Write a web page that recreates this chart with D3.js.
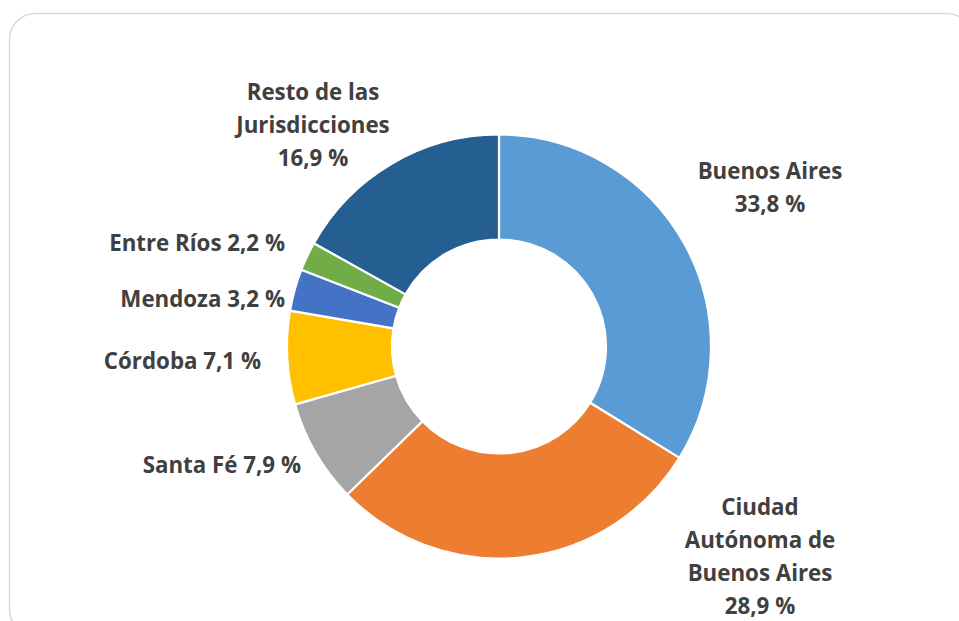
<!DOCTYPE html>
<html><head><meta charset="utf-8">
<script src="https://cdn.jsdelivr.net/npm/d3@7"></script>
<style>body{margin:0;background:#fff;} svg{display:block;}</style>
</head><body>
<svg id="chart" width="959" height="621"></svg>
<script>
const categories = ["Buenos Aires","Ciudad Autónoma de Buenos Aires","Santa Fé","Córdoba","Mendoza","Entre Ríos","Resto de las Jurisdicciones"];
const values = [33.8, 28.9, 7.9, 7.1, 3.2, 2.2, 16.9];
const labelLines = [
  ["Buenos Aires","33,8 %"],
  ["Ciudad","Autónoma de","Buenos Aires","28,9 %"],
  ["Santa Fé 7,9 %"],
  ["Córdoba 7,1 %"],
  ["Mendoza 3,2 %"],
  ["Entre Ríos 2,2 %"],
  ["Resto de las","Jurisdicciones","16,9 %"]
];
const colors = ["#5B9BD5","#ED7D31","#A5A5A5","#FFC000","#4472C4","#70AD47","#255E91"];

// layout
const cx = 499, cy = 346.5, outerR = 212, innerR = 107;
const labelPos = [ // offsets from chart center: [dx, dy, anchor]
  [271, -174, "middle"],
  [261, 162, "middle"],
  [-198, 120, "end"],
  [-238, 16, "end"],
  [-214, -46, "end"],
  [-214, -102, "end"],
  [-186, -253, "middle"]
];
const lineH = 33;

const svg = d3.select("#chart");
svg.append("rect").attr("x",9.5).attr("y",13.5).attr("width",963).attr("height",622)
  .attr("rx",26).attr("fill","#fff").attr("stroke","#d9d9d9").attr("stroke-width",1.5);

const pie = d3.pie().sort(null).value(d=>d)(values);
const arc = d3.arc().innerRadius(innerR).outerRadius(outerR);
const g = svg.append("g").attr("transform",`translate(${cx},${cy})`);
g.selectAll("path").data(pie).join("path")
  .attr("d",arc).attr("fill",(d,i)=>colors[i])
  .attr("stroke","#fff").attr("stroke-width",2.2).attr("stroke-linejoin","round");

const lg = g.append("g").attr("font-family","'Open Sans', Lato, sans-serif")
  .attr("font-weight",700).attr("font-size",22.3).attr("fill","#404040");
labelLines.forEach((lines,i)=>{
  const [dx,dy,anchor] = labelPos[i];
  const t = lg.append("text").attr("text-anchor",anchor).attr("dominant-baseline","middle");
  lines.forEach((s,k)=>{
    t.append("tspan").attr("x",dx).attr("y",dy + k*lineH).text(s);
  });
});
</script>
</body></html>
